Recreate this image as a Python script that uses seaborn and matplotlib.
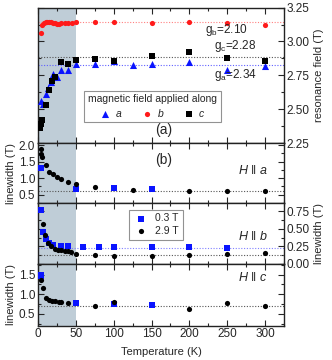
import numpy as np
import pandas as pd
import matplotlib
matplotlib.use("Agg")
import matplotlib.pyplot as plt
from matplotlib.ticker import MultipleLocator
import seaborn as sns

# ---------------- data ----------------
# panel (a): resonance field vs temperature
temp_a = [4.5, 6.5, 10, 13.5, 16.5, 20, 25, 30, 40, 50, 75, 100, 125, 150, 200, 250, 300]
field_a = [2.56, 2.54, 2.615, 2.66, 2.70, 2.76, 2.74, 2.79, 2.79, 2.835, 2.835, 2.853, 2.824, 2.834, 2.849, 2.792, 2.821]
temp_b = [4, 5.5, 7.5, 10, 12.5, 15, 17.5, 20, 22.5, 25, 27.5, 30, 35, 40, 45, 50, 75, 100, 150, 200, 250, 300]
field_b = [3.06, 3.12, 3.137, 3.143, 3.146, 3.145, 3.142, 3.138, 3.135, 3.132, 3.132, 3.133, 3.135, 3.137, 3.139, 3.14, 3.14, 3.14, 3.135, 3.147, 3.135, 3.123]
temp_c = [3, 4, 5, 10, 15, 18, 22, 30, 40, 50, 75, 100, 150, 200, 250, 300]
field_c = [2.36, 2.39, 2.42, 2.53, 2.645, 2.705, 2.735, 2.846, 2.834, 2.865, 2.871, 2.856, 2.89, 2.919, 2.878, 2.853]
g_lines = [3.142, 2.885, 2.826]  # b, c, a
g_labels = ["g$_\\mathrm{b}$=2.10", "g$_\\mathrm{c}$=2.28", "g$_\\mathrm{a}$=2.34"]

# panel (b): H || a
ha_temp_hi = [3.7, 4.6, 5.5, 10, 15, 20, 25, 30, 40, 50, 75, 125, 200, 250, 300]
ha_w_hi = [1.87, 1.73, 1.645, 1.39, 1.19, 1.11, 1.04, 0.96, 0.87, 0.815, 0.73, 0.632, 0.60, 0.60, 0.60]
ha_temp_lo = [3.7, 50, 100, 150]
ha_w_lo = [1.32, 0.655, 0.684, 0.675]
ha_line = 0.62

# panel (c): H || b
hb_temp_lo = [4.5, 6.8, 10, 14.7, 20, 30, 40, 60, 80, 100, 150, 200, 250]
hb_w_lo = [0.766, 0.454, 0.35, 0.30, 0.27, 0.258, 0.25, 0.239, 0.239, 0.239, 0.239, 0.234, 0.225]
hb_temp_hi = [6, 9, 13.4, 17.8, 22, 26.6, 31, 35.4, 40, 44, 50, 75, 100, 150, 200, 250, 300]
hb_w_hi = [0.575, 0.41, 0.29, 0.25, 0.215, 0.20, 0.19, 0.18, 0.177, 0.167, 0.144, 0.129, 0.11, 0.11, 0.12, 0.134, 0.158]
hb_line_lo = 0.224
hb_line_hi = 0.12

# panel (d): H || c
hc_temp_lo = [3.7, 4.2, 50, 100, 150]
hc_w_lo = [1.50, 1.46, 0.78, 0.76, 0.735]
hc_temp_hi = [4.6, 6.8, 10, 14.7, 18.7, 23, 27.5, 30, 40, 75, 100, 200, 250, 300]
hc_w_hi = [1.355, 1.16, 0.90, 0.86, 0.84, 0.82, 0.805, 0.80, 0.775, 0.71, 0.81, 0.633, 0.78, 0.69]
hc_line = 0.70

field_labels = ["0.3 T", "2.9 T"]
xticks = [0, 50, 100, 150, 200, 250, 300]

# ---------------- style ----------------
sns.set_theme(style="ticks")
plt.rcParams["font.family"] = ["Liberation Sans", "DejaVu Sans"]
plt.rcParams["mathtext.fontset"] = "custom"
plt.rcParams["mathtext.rm"] = "Liberation Sans"
plt.rcParams["mathtext.it"] = "Liberation Sans:italic"
plt.rcParams["mathtext.fallback"] = "stixsans"

BLUE = "#0a14ff"
RED = "#ff1a1a"
SHADE = "#bfcdd7"
TICK_FS = 8.5

fig = plt.figure(figsize=(3.32, 3.60), dpi=100)
gs = fig.add_gridspec(4, 1, height_ratios=[135.5, 60, 60.5, 62], hspace=0,
                      left=0.1145, right=0.8554, top=0.979, bottom=0.0953)
axes = [fig.add_subplot(gs[i]) for i in range(4)]

for ax in axes:
    ax.axvspan(0, 50, color=SHADE, zorder=0, lw=0)
    ax.set_xlim(0, 325)
    ax.xaxis.set_major_locator(MultipleLocator(50))
    ax.xaxis.set_minor_locator(MultipleLocator(25))
    ax.tick_params(which="both", direction="in", top=True, bottom=True, left=True, right=True,
                   labelsize=TICK_FS, width=0.8, pad=2)
    ax.tick_params(which="major", length=4)
    ax.tick_params(which="minor", length=2)
    for s in ax.spines.values():
        s.set_linewidth(1.0)
        s.set_color("#222222")
    ax.set_xlabel("")
    ax.set_ylabel("")
    ax.set_xticks(xticks)
    if ax is not axes[-1]:
        ax.tick_params(labelbottom=False)

ms_c = 14   # circles
ms_s = 17   # squares
ms_t = 26   # triangles
# ---------- panel (a) ----------
ax = axes[0]
ax.axhline(g_lines[0], color="#ff8080", ls=(0, (1, 1.5)), lw=0.8, zorder=1)
ax.axhline(g_lines[1], color="#555555", ls=(0, (1, 1.5)), lw=0.8, zorder=1)
ax.axhline(g_lines[2], color="#6060ff", ls=(0, (1, 1.5)), lw=0.8, zorder=1)
sns.scatterplot(x=temp_a, y=field_a, ax=ax, marker="^", color=BLUE, s=ms_t, linewidth=0, label="$a$", zorder=3)
sns.scatterplot(x=temp_b, y=field_b, ax=ax, marker="o", color=RED, s=ms_c, linewidth=0, label="$b$", zorder=3)
sns.scatterplot(x=temp_c, y=field_c, ax=ax, marker="s", color="black", s=ms_s, linewidth=0, label="$c$", zorder=3)
ax.set_ylim(2.25, 3.25)
ax.yaxis.set_major_locator(MultipleLocator(0.25))
ax.yaxis.set_minor_locator(MultipleLocator(0.125))
ax.tick_params(labelleft=False, labelright=True)
ax.yaxis.set_major_formatter(matplotlib.ticker.FormatStrFormatter("%.2f"))
ax.yaxis.set_label_position("right")
ax.set_ylabel("resonance field (T)", fontsize=8, labelpad=3)
leg = ax.legend(title="magnetic field applied along", ncol=3, loc="center",
                bbox_to_anchor=(0.465, 0.27), fontsize=7.5, title_fontsize=7.5,
                frameon=True, fancybox=False, edgecolor="#777777", handletextpad=0.3,
                columnspacing=1.8, borderpad=0.35, labelspacing=0.2, handlelength=1.2)
leg.get_frame().set_linewidth(0.8)
ax.text(0.51, 0.10, "(a)", transform=ax.transAxes, ha="center", va="center", fontsize=10)
ax.text(221, 3.085, g_labels[0], ha="left", va="center", fontsize=8.5)
ax.text(233, 2.97, g_labels[1], ha="left", va="center", fontsize=8.5)
ax.text(233, 2.755, g_labels[2], ha="left", va="center", fontsize=8.5)

# ---------- panel (b) ----------
ax = axes[1]
ax.axhline(ha_line, color="#555555", ls=(0, (1, 1.5)), lw=0.8, zorder=1)
sns.scatterplot(x=ha_temp_lo, y=ha_w_lo, ax=ax, marker="s", color=BLUE, s=ms_s, linewidth=0, zorder=3)
sns.scatterplot(x=ha_temp_hi, y=ha_w_hi, ax=ax, marker="o", color="black", s=ms_c, linewidth=0, zorder=3)
ax.set_ylim(0.24, 2.06)
ax.yaxis.set_major_locator(MultipleLocator(0.5))
ax.yaxis.set_minor_locator(MultipleLocator(0.25))
ax.set_ylabel("linewidth (T)", fontsize=8, labelpad=2)
ax.text(0.51, 0.72, "(b)", transform=ax.transAxes, ha="center", va="center", fontsize=10)
ax.text(0.815, 0.55, r"$H$ $\Vert$ $a$", transform=ax.transAxes, ha="left", va="center", fontsize=9)

# ---------- panel (c) ----------
ax = axes[2]
ax.axhline(hb_line_lo, color="#8080ff", ls=(0, (1, 1.5)), lw=0.8, zorder=1)
ax.axhline(hb_line_hi, color="#555555", ls=(0, (1, 1.5)), lw=0.8, zorder=1)
sns.scatterplot(x=hb_temp_lo, y=hb_w_lo, ax=ax, marker="s", color=BLUE, s=ms_s, linewidth=0, label=field_labels[0], zorder=3)
sns.scatterplot(x=hb_temp_hi, y=hb_w_hi, ax=ax, marker="o", color="black", s=ms_c, linewidth=0, label=field_labels[1], zorder=3)
ax.set_ylim(0, 0.87)
ax.yaxis.set_major_locator(MultipleLocator(0.25))
ax.yaxis.set_minor_locator(MultipleLocator(0.125))
ax.tick_params(labelleft=False, labelright=True)
ax.yaxis.set_major_formatter(matplotlib.ticker.FormatStrFormatter("%.2f"))
ax.yaxis.set_label_position("right")
ax.set_ylabel("linewidth (T)", fontsize=8, labelpad=3)
leg2 = ax.legend(loc="center", bbox_to_anchor=(0.478, 0.645), fontsize=7.5, frameon=True,
                 fancybox=False, edgecolor="#777777", handletextpad=0.6, borderpad=0.35,
                 labelspacing=0.25, handlelength=1.6)
leg2.get_frame().set_linewidth(0.8)
ax.text(0.815, 0.45, r"$H$ $\Vert$ $b$", transform=ax.transAxes, ha="left", va="center", fontsize=9)

# ---------- panel (d) ----------
ax = axes[3]
ax.axhline(hc_line, color="#555555", ls=(0, (1, 1.5)), lw=0.8, zorder=1)
sns.scatterplot(x=hc_temp_lo, y=hc_w_lo, ax=ax, marker="s", color=BLUE, s=ms_s, linewidth=0, zorder=3)
sns.scatterplot(x=hc_temp_hi, y=hc_w_hi, ax=ax, marker="o", color="black", s=ms_c, linewidth=0, zorder=3)
ax.set_ylim(0.2, 1.78)
ax.yaxis.set_major_locator(MultipleLocator(0.5))
ax.yaxis.set_minor_locator(MultipleLocator(0.25))
ax.set_ylabel("linewidth (T)", fontsize=8, labelpad=2)
ax.set_xlabel("Temperature (K)", fontsize=8, labelpad=5)
ax.set_xticks(xticks)
ax.set_xticklabels([str(t) for t in xticks])
ax.text(0.815, 0.77, r"$H$ $\Vert$ $c$", transform=ax.transAxes, ha="left", va="center", fontsize=9)

fig.savefig("out.png", dpi=100)
